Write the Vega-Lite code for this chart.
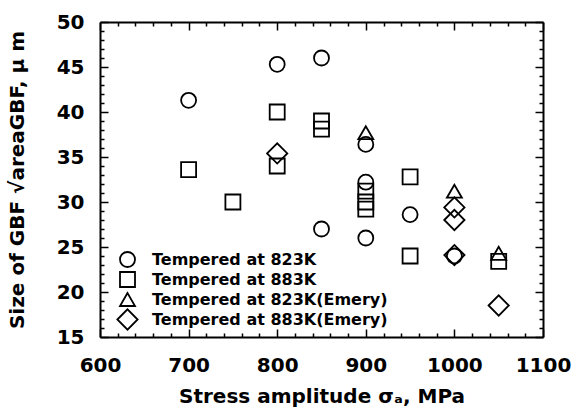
{
  "$schema": "https://vega.github.io/schema/vega-lite/v6.json",
  "width": 443,
  "height": 315,
  "autosize": "none",
  "padding": {"left": 100, "top": 22, "right": 37, "bottom": 73},
  "background": "white",
  "config": {
    "view": {"stroke": null},
    "font": "DejaVu Sans",
    "axis": {"labelFont": "DejaVu Sans", "titleFont": "DejaVu Sans", "labelColor": "black", "titleColor": "black", "domainColor": "black", "tickColor": "black", "grid": false}
  },
  "data": {"values": [
    {"s": 700, "v": 41.3, "g": "Tempered at 823K"},
    {"s": 800, "v": 45.3, "g": "Tempered at 823K"},
    {"s": 850, "v": 46.0, "g": "Tempered at 823K"},
    {"s": 850, "v": 27.0, "g": "Tempered at 823K"},
    {"s": 900, "v": 36.4, "g": "Tempered at 823K"},
    {"s": 900, "v": 32.2, "g": "Tempered at 823K"},
    {"s": 900, "v": 26.0, "g": "Tempered at 823K"},
    {"s": 950, "v": 28.6, "g": "Tempered at 823K"},
    {"s": 1000, "v": 24.0, "g": "Tempered at 823K"},
    {"s": 700, "v": 33.6, "g": "Tempered at 883K"},
    {"s": 750, "v": 30.0, "g": "Tempered at 883K"},
    {"s": 800, "v": 40.0, "g": "Tempered at 883K"},
    {"s": 800, "v": 34.0, "g": "Tempered at 883K"},
    {"s": 850, "v": 39.0, "g": "Tempered at 883K"},
    {"s": 850, "v": 38.1, "g": "Tempered at 883K"},
    {"s": 900, "v": 31.2, "g": "Tempered at 883K"},
    {"s": 900, "v": 30.0, "g": "Tempered at 883K"},
    {"s": 900, "v": 29.2, "g": "Tempered at 883K"},
    {"s": 950, "v": 32.8, "g": "Tempered at 883K"},
    {"s": 950, "v": 24.0, "g": "Tempered at 883K"},
    {"s": 1050, "v": 23.4, "g": "Tempered at 883K"},
    {"s": 900, "v": 37.7, "g": "Tempered at 823K(Emery)"},
    {"s": 1000, "v": 31.2, "g": "Tempered at 823K(Emery)"},
    {"s": 1050, "v": 24.3, "g": "Tempered at 823K(Emery)"},
    {"s": 800, "v": 35.4, "g": "Tempered at 883K(Emery)"},
    {"s": 1000, "v": 29.4, "g": "Tempered at 883K(Emery)"},
    {"s": 1000, "v": 28.0, "g": "Tempered at 883K(Emery)"},
    {"s": 1000, "v": 24.1, "g": "Tempered at 883K(Emery)"},
    {"s": 1050, "v": 18.5, "g": "Tempered at 883K(Emery)"}
  ]},
  "resolve": {"axis": {"x": "independent", "y": "independent"}},
  "layer": [
    {
      "mark": {"type": "point", "filled": false, "stroke": "black", "strokeWidth": 1.8, "opacity": 1, "size": 225},
      "encoding": {
        "x": {"field": "s", "type": "quantitative", "scale": {"domain": [600, 1100], "nice": false, "zero": false},
          "axis": {"orient": "bottom", "title": "Stress amplitude  σₐ, MPa", "titleFontSize": 20, "titleFontWeight": "bold", "titlePadding": 7,
            "values": [600,620,640,660,680,700,720,740,760,780,800,820,840,860,880,900,920,940,960,980,1000,1020,1040,1060,1080,1100],
            "labelExpr": "datum.value % 100 === 0 ? datum.label : ''", "format": "d",
            "labelFontSize": 20, "labelFontWeight": "bold", "labelPadding": 26, "labelOverlap": false, "labelFlush": false,
            "domainWidth": 2, "tickWidth": 1.5,
            "tickSize": {"condition": {"test": "datum.value % 100 === 0", "value": -8}, "value": -4}}},
        "y": {"field": "v", "type": "quantitative", "scale": {"domain": [15, 50], "nice": false, "zero": false},
          "axis": {"orient": "left", "title": "Size of GBF √areaGBF, μ m", "titleFontSize": 20, "titleFontWeight": "bold", "titlePadding": 29,
            "values": [15,16,17,18,19,20,21,22,23,24,25,26,27,28,29,30,31,32,33,34,35,36,37,38,39,40,41,42,43,44,45,46,47,48,49,50],
            "labelExpr": "datum.value % 5 === 0 ? datum.label : ''",
            "labelFontSize": 20, "labelFontWeight": "bold", "labelPadding": 24, "labelOverlap": false, "labelFlush": false,
            "domainWidth": 2, "tickWidth": 1.5,
            "tickSize": {"condition": {"test": "datum.value % 5 === 0", "value": -8}, "value": -4}}},
        "shape": {"field": "g", "type": "nominal",
          "scale": {"domain": ["Tempered at 823K", "Tempered at 883K", "Tempered at 823K(Emery)", "Tempered at 883K(Emery)"], "range": ["circle", "square", "triangle-up", "M-1.35,0L0,-1.35L1.35,0L0,1.35Z"]},
          "legend": {"orient": "none", "legendX": 19, "legendY": 229, "title": null, "labelFontSize": 16, "labelFontWeight": "bold", "labelColor": "black", "labelFont": "DejaVu Sans", "labelLimit": 0, "symbolSize": 225, "symbolStrokeColor": "black", "symbolFillColor": "transparent", "symbolStrokeWidth": 1.8, "rowPadding": -5, "labelOffset": 16, "padding": 0}}
      }
    },
    {
      "mark": {"type": "point", "opacity": 0},
      "encoding": {
        "x": {"field": "s", "type": "quantitative",
          "axis": {"orient": "top", "title": null, "labels": false, "domainWidth": 2, "tickWidth": 1.5,
            "values": [600,620,640,660,680,700,720,740,760,780,800,820,840,860,880,900,920,940,960,980,1000,1020,1040,1060,1080,1100],
            "tickSize": {"condition": {"test": "datum.value % 100 === 0", "value": -8}, "value": -4}}},
        "y": {"field": "v", "type": "quantitative",
          "axis": {"orient": "right", "title": null, "labels": false, "domainWidth": 2, "tickWidth": 1.5,
            "values": [15,16,17,18,19,20,21,22,23,24,25,26,27,28,29,30,31,32,33,34,35,36,37,38,39,40,41,42,43,44,45,46,47,48,49,50],
            "tickSize": {"condition": {"test": "datum.value % 5 === 0", "value": -8}, "value": -4}}}
      }
    }
  ]
}
